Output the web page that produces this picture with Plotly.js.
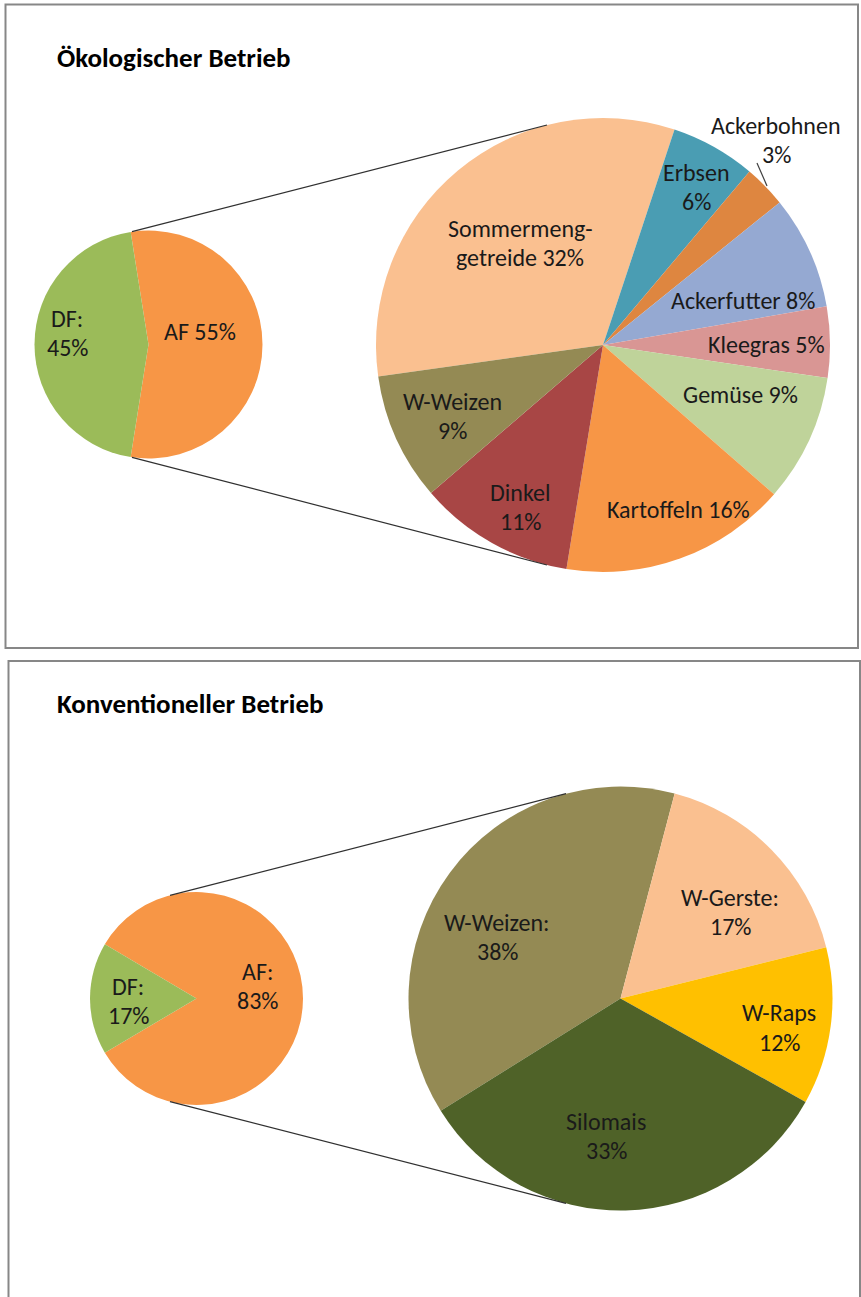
<!DOCTYPE html>
<html>
<head>
<meta charset="utf-8">
<script src="https://cdn.plot.ly/plotly-3.0.1.min.js"></script>
<style>html,body{margin:0;padding:0;background:#fff;}#chart{width:861px;height:1297px;}</style>
</head>
<body>
<div id="chart"></div>
<script>
// ---------- DATA ----------
// Ökologischer Betrieb – main pie
const oekoMainCategories = ['AF', 'DF'];
const oekoMainValues = [55, 45];
const oekoMainLabelFormat = ['AF {v}', 'DF:<br>{v}'];
// Ökologischer Betrieb – breakdown of AF
const oekoDetailCategories = ['Sommermenggetreide', 'Erbsen', 'Ackerbohnen', 'Ackerfutter', 'Kleegras', 'Gemüse', 'Kartoffeln', 'Dinkel', 'W-Weizen'];
const oekoDetailValues = [32, 6, 3, 8, 5, 9, 16, 11, 9];
const oekoDetailLabelFormat = ['Sommermeng-<br>getreide {v}', 'Erbsen<br>{v}', 'Ackerbohnen<br>{v}', 'Ackerfutter {v}', 'Kleegras {v}', 'Gemüse {v}', 'Kartoffeln {v}', 'Dinkel<br>{v}', 'W-Weizen<br>{v}'];

// Konventioneller Betrieb – main pie
const konvMainCategories = ['AF', 'DF'];
const konvMainValues = [83, 17];
const konvMainLabelFormat = ['AF:<br>{v}', 'DF:<br>{v}'];
// Konventioneller Betrieb – breakdown of AF
const konvDetailCategories = ['W-Weizen', 'W-Gerste', 'W-Raps', 'Silomais'];
const konvDetailValues = [38, 17, 12, 33];
const konvDetailLabelFormat = ['W-Weizen:<br>{v}', 'W-Gerste:<br>{v}', 'W-Raps<br>{v}', 'Silomais<br>{v}'];

const panelTitles = ['Ökologischer Betrieb', 'Konventioneller Betrieb'];

// ---------- STYLE / LAYOUT ----------
const W = 861, H = 1297;
const FONT = 'Carlito, Lato, sans-serif';
const px = x => x / W;
const py = y => 1 - y / H;

const colors = {
  oekoMain: ['#F79646', '#9BBB59'],
  oekoDetail: ['#FAC090', '#4A9DB3', '#DE8640', '#95A9D2', '#D99694', '#BFD39A', '#F79646', '#A84645', '#948A54'],
  konvMain: ['#F79646', '#9BBB59'],
  konvDetail: ['#948A54', '#FAC090', '#FFC000', '#4F6228']
};

// pie geometry (pixel centre + radius) and start angles
const geom = {
  oekoMain:   {cx: 148.5, cy: 344.5, r: 114, rot: -9},
  oekoDetail: {cx: 603,   cy: 345,   r: 227, rot: -98},
  konvMain:   {cx: 196.5, cy: 998.5, r: 106.5, rot: -59.4},
  konvDetail: {cx: 620.5, cy: 998.5, r: 212, rot: -122}
};

// label positions (pixel centres of the text blocks)
const labelPos = {
  oekoMain: [[200, 332], [67, 333]],
  oekoDetail: [[520, 243.5], [696, 187], [776, 140], [743, 300], [766, 345], [740, 395], [678, 510], [520, 506.5], [452, 415.5]],
  konvMain: [[257.5, 986], [128, 1001]],
  konvDetail: [[497, 937], [730, 912], [779, 1027.5], [606, 1135.5]]
};
const LINE_GAP = 29;
const LABEL_SIZE = 24;
const TITLE_SIZE = 27;

function pieTrace(labels, values, cols, g) {
  return {
    type: 'pie', labels: labels, values: values, sort: false,
    direction: 'clockwise', rotation: g.rot,
    marker: {colors: cols, line: {width: 0}},
    textinfo: 'none', hoverinfo: 'label+percent', showlegend: false,
    domain: {x: [px(g.cx - g.r), px(g.cx + g.r)], y: [py(g.cy + g.r), py(g.cy - g.r)]}
  };
}

const data = [
  pieTrace(oekoMainCategories, oekoMainValues, colors.oekoMain, geom.oekoMain),
  pieTrace(oekoDetailCategories, oekoDetailValues, colors.oekoDetail, geom.oekoDetail),
  pieTrace(konvMainCategories, konvMainValues, colors.konvMain, geom.konvMain),
  pieTrace(konvDetailCategories, konvDetailValues, colors.konvDetail, geom.konvDetail)
];

const annotations = [];
function addLabels(formats, values, positions) {
  formats.forEach((f, i) => {
    const text = f.replace('{v}', Math.round(values[i]) + '%');
    const lines = text.split('<br>');
    const [x, y] = positions[i];
    lines.forEach((ln, j) => {
      const yy = y + (j - (lines.length - 1) / 2) * LINE_GAP;
      annotations.push({
        xref: 'paper', yref: 'paper', x: px(x), y: py(yy),
        xanchor: 'center', yanchor: 'middle', showarrow: false,
        text: ln, font: {family: FONT, size: LABEL_SIZE, color: '#1a1a1a'}
      });
    });
  });
}
addLabels(oekoMainLabelFormat, oekoMainValues, labelPos.oekoMain);
addLabels(oekoDetailLabelFormat, oekoDetailValues, labelPos.oekoDetail);
addLabels(konvMainLabelFormat, konvMainValues, labelPos.konvMain);
addLabels(konvDetailLabelFormat, konvDetailValues, labelPos.konvDetail);

// panel titles
[[55, 57], [55, 703]].forEach((p, i) => {
  annotations.push({
    xref: 'paper', yref: 'paper', x: px(p[0]), y: py(p[1]),
    xanchor: 'left', yanchor: 'middle', showarrow: false,
    text: '<b>' + panelTitles[i] + '</b>', font: {family: FONT, size: TITLE_SIZE, color: '#000'}
  });
});

function line(x0, y0, x1, y1, color, width) {
  return {type: 'line', xref: 'paper', yref: 'paper', x0: px(x0), y0: py(y0), x1: px(x1), y1: py(y1),
          line: {color: color, width: width}};
}
function tangentPoints(g, x) {
  const dy = Math.sqrt(g.r * g.r - (x - g.cx) * (x - g.cx));
  return [g.cy - dy, g.cy + dy];
}
const shapes = [
  {type: 'rect', xref: 'paper', yref: 'paper', x0: px(5.5), y0: py(648), x1: px(858), y1: py(4.5),
   line: {color: '#878787', width: 2}, fillcolor: 'rgba(0,0,0,0)'},
  {type: 'rect', xref: 'paper', yref: 'paper', x0: px(8.5), y0: py(1310), x1: px(860), y1: py(661),
   line: {color: '#878787', width: 2}, fillcolor: 'rgba(0,0,0,0)'}
];
// connector lines between the pies
(function () {
  const a = tangentPoints(geom.oekoMain, 132), b = tangentPoints(geom.oekoDetail, 547);
  shapes.push(line(132, a[0], 547, b[0], '#303030', 1.2));
  shapes.push(line(132, a[1], 547, b[1], '#303030', 1.2));
  const c = tangentPoints(geom.konvMain, 170), d = tangentPoints(geom.konvDetail, 566);
  shapes.push(line(170, c[0], 566, d[0], '#303030', 1.2));
  shapes.push(line(170, c[1], 566, d[1], '#303030', 1.2));
  // leader line for Ackerbohnen
  shapes.push(line(757, 163, 767, 186, '#404040', 1.2));
})();

const layout = {
  width: W, height: H,
  margin: {l: 0, r: 0, t: 0, b: 0},
  paper_bgcolor: '#fff', plot_bgcolor: '#fff',
  showlegend: false,
  font: {family: FONT},
  annotations: annotations,
  shapes: shapes
};

Plotly.newPlot('chart', data, layout, {displayModeBar: false, staticPlot: true});
</script>
</body>
</html>
